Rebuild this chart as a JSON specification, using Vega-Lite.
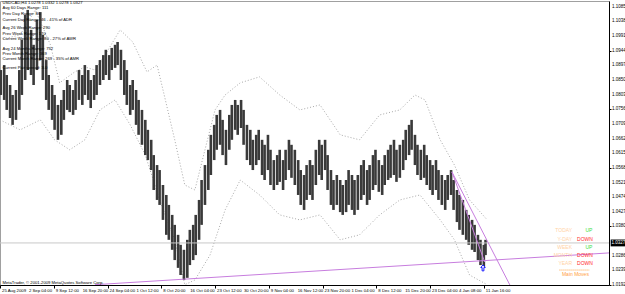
{
"$schema":"https://vega.github.io/schema/vega-lite/v6.json",
"width":609,"height":284,"autosize":"none",
"padding":{"left":0,"top":1,"right":16,"bottom":9},
"background":"#ffffff",
"config":{"view":{"stroke":"#a0a0a0","strokeWidth":1},"font":"Liberation Sans","axis":{"grid":false}},
"datasets":{
"bars":[
{"i":1,"hi":1.0882,"lo":1.0802},{"i":5,"hi":1.0898,"lo":1.0786},{"i":8,"hi":1.0866,"lo":1.0754},{"i":12,"hi":1.0834,"lo":1.0728},{"i":15,"hi":1.0802,"lo":1.0706},{"i":19,"hi":1.0818,"lo":1.0722},{"i":23,"hi":1.0882,"lo":1.0754},{"i":26,"hi":1.0979,"lo":1.0802},{"i":30,"hi":1.1059,"lo":1.0850},{"i":33,"hi":1.1075,"lo":1.0882},{"i":37,"hi":1.1011,"lo":1.0866},{"i":40,"hi":1.0963,"lo":1.0834},{"i":44,"hi":1.1043,"lo":1.0882},{"i":48,"hi":1.1068,"lo":1.0914},{"i":51,"hi":1.0995,"lo":1.0850},{"i":55,"hi":1.0914,"lo":1.0786},{"i":58,"hi":1.0866,"lo":1.0754},{"i":62,"hi":1.0834,"lo":1.0722},{"i":65,"hi":1.0802,"lo":1.0690},{"i":69,"hi":1.0770,"lo":1.0658},{"i":73,"hi":1.0786,"lo":1.0674},{"i":76,"hi":1.0818,"lo":1.0722},{"i":80,"hi":1.0850,"lo":1.0754},{"i":83,"hi":1.0834,"lo":1.0747},{"i":87,"hi":1.0818,"lo":1.0738},{"i":90,"hi":1.0850,"lo":1.0754},{"i":94,"hi":1.0882,"lo":1.0786},{"i":98,"hi":1.0866,"lo":1.0770},{"i":101,"hi":1.0898,"lo":1.0802},{"i":105,"hi":1.0882,"lo":1.0786},{"i":108,"hi":1.0850,"lo":1.0760},{"i":112,"hi":1.0866,"lo":1.0786},{"i":115,"hi":1.0898,"lo":1.0802},{"i":119,"hi":1.0914,"lo":1.0834},{"i":123,"hi":1.0930,"lo":1.0850},{"i":126,"hi":1.0947,"lo":1.0866},{"i":130,"hi":1.0930,"lo":1.0850},{"i":133,"hi":1.0953,"lo":1.0882},{"i":137,"hi":1.0963,"lo":1.0889},{"i":140,"hi":1.0972,"lo":1.0898},{"i":144,"hi":1.0947,"lo":1.0850},{"i":148,"hi":1.0914,"lo":1.0802},{"i":151,"hi":1.0882,"lo":1.0770},{"i":155,"hi":1.0834,"lo":1.0738},{"i":158,"hi":1.0850,"lo":1.0754},{"i":162,"hi":1.0818,"lo":1.0706},{"i":165,"hi":1.0786,"lo":1.0674},{"i":169,"hi":1.0754,"lo":1.0642},{"i":173,"hi":1.0722,"lo":1.0609},{"i":176,"hi":1.0690,"lo":1.0593},{"i":180,"hi":1.0658,"lo":1.0561},{"i":183,"hi":1.0609,"lo":1.0497},{"i":187,"hi":1.0577,"lo":1.0465},{"i":190,"hi":1.0561,"lo":1.0449},{"i":194,"hi":1.0513,"lo":1.0401},{"i":198,"hi":1.0481,"lo":1.0353},{"i":201,"hi":1.0449,"lo":1.0337},{"i":205,"hi":1.0417,"lo":1.0305},{"i":208,"hi":1.0385,"lo":1.0272},{"i":212,"hi":1.0353,"lo":1.0247},{"i":215,"hi":1.0321,"lo":1.0224},{"i":219,"hi":1.0305,"lo":1.0208},{"i":223,"hi":1.0337,"lo":1.0215},{"i":226,"hi":1.0369,"lo":1.0256},{"i":230,"hi":1.0385,"lo":1.0272},{"i":233,"hi":1.0417,"lo":1.0288},{"i":237,"hi":1.0465,"lo":1.0337},{"i":240,"hi":1.0529,"lo":1.0385},{"i":244,"hi":1.0577,"lo":1.0449},{"i":248,"hi":1.0626,"lo":1.0497},{"i":251,"hi":1.0674,"lo":1.0545},{"i":255,"hi":1.0706,"lo":1.0593},{"i":258,"hi":1.0738,"lo":1.0626},{"i":262,"hi":1.0754,"lo":1.0642},{"i":265,"hi":1.0722,"lo":1.0609},{"i":269,"hi":1.0690,"lo":1.0577},{"i":273,"hi":1.0738,"lo":1.0626},{"i":276,"hi":1.0770,"lo":1.0658},{"i":280,"hi":1.0786,"lo":1.0690},{"i":283,"hi":1.0770,"lo":1.0674},{"i":287,"hi":1.0786,"lo":1.0696},{"i":290,"hi":1.0754,"lo":1.0642},{"i":294,"hi":1.0706,"lo":1.0593},{"i":298,"hi":1.0690,"lo":1.0577},{"i":301,"hi":1.0658,"lo":1.0561},{"i":305,"hi":1.0674,"lo":1.0577},{"i":308,"hi":1.0690,"lo":1.0593},{"i":312,"hi":1.0658,"lo":1.0545},{"i":315,"hi":1.0642,"lo":1.0529},{"i":319,"hi":1.0674,"lo":1.0561},{"i":322,"hi":1.0626,"lo":1.0513},{"i":326,"hi":1.0593,"lo":1.0497},{"i":330,"hi":1.0609,"lo":1.0513},{"i":333,"hi":1.0626,"lo":1.0523},{"i":337,"hi":1.0593,"lo":1.0497},{"i":340,"hi":1.0626,"lo":1.0529},{"i":344,"hi":1.0658,"lo":1.0561},{"i":347,"hi":1.0642,"lo":1.0536},{"i":351,"hi":1.0626,"lo":1.0513},{"i":355,"hi":1.0593,"lo":1.0481},{"i":358,"hi":1.0561,"lo":1.0449},{"i":362,"hi":1.0545,"lo":1.0433},{"i":365,"hi":1.0577,"lo":1.0465},{"i":369,"hi":1.0593,"lo":1.0481},{"i":372,"hi":1.0577,"lo":1.0465},{"i":376,"hi":1.0626,"lo":1.0513},{"i":380,"hi":1.0658,"lo":1.0545},{"i":383,"hi":1.0642,"lo":1.0529},{"i":387,"hi":1.0658,"lo":1.0561},{"i":390,"hi":1.0609,"lo":1.0497},{"i":394,"hi":1.0561,"lo":1.0449},{"i":397,"hi":1.0529,"lo":1.0433},{"i":401,"hi":1.0545,"lo":1.0449},{"i":405,"hi":1.0529,"lo":1.0426},{"i":408,"hi":1.0513,"lo":1.0417},{"i":412,"hi":1.0529,"lo":1.0426},{"i":415,"hi":1.0561,"lo":1.0449},{"i":419,"hi":1.0545,"lo":1.0433},{"i":422,"hi":1.0529,"lo":1.0417},{"i":426,"hi":1.0545,"lo":1.0433},{"i":430,"hi":1.0577,"lo":1.0465},{"i":433,"hi":1.0593,"lo":1.0481},{"i":437,"hi":1.0561,"lo":1.0449},{"i":440,"hi":1.0577,"lo":1.0465},{"i":444,"hi":1.0609,"lo":1.0497},{"i":447,"hi":1.0626,"lo":1.0513},{"i":451,"hi":1.0593,"lo":1.0491},{"i":455,"hi":1.0577,"lo":1.0481},{"i":458,"hi":1.0609,"lo":1.0513},{"i":462,"hi":1.0626,"lo":1.0529},{"i":465,"hi":1.0642,"lo":1.0536},{"i":469,"hi":1.0658,"lo":1.0545},{"i":472,"hi":1.0626,"lo":1.0523},{"i":476,"hi":1.0642,"lo":1.0536},{"i":480,"hi":1.0658,"lo":1.0561},{"i":483,"hi":1.0690,"lo":1.0593},{"i":487,"hi":1.0706,"lo":1.0609},{"i":490,"hi":1.0722,"lo":1.0626},{"i":494,"hi":1.0674,"lo":1.0577},{"i":497,"hi":1.0642,"lo":1.0545},{"i":501,"hi":1.0626,"lo":1.0529},{"i":505,"hi":1.0642,"lo":1.0536},{"i":508,"hi":1.0609,"lo":1.0513},{"i":512,"hi":1.0593,"lo":1.0497},{"i":515,"hi":1.0577,"lo":1.0481},{"i":519,"hi":1.0593,"lo":1.0497},{"i":522,"hi":1.0561,"lo":1.0465},{"i":526,"hi":1.0545,"lo":1.0449},{"i":530,"hi":1.0529,"lo":1.0433},{"i":533,"hi":1.0545,"lo":1.0465},{"i":537,"hi":1.0561,"lo":1.0481},{"i":540,"hi":1.0529,"lo":1.0433},{"i":544,"hi":1.0497,"lo":1.0394},{"i":547,"hi":1.0481,"lo":1.0369},{"i":551,"hi":1.0465,"lo":1.0353},{"i":555,"hi":1.0433,"lo":1.0337},{"i":558,"hi":1.0417,"lo":1.0321},{"i":562,"hi":1.0401,"lo":1.0305},{"i":565,"hi":1.0385,"lo":1.0298},{"i":569,"hi":1.0353,"lo":1.0272},{"i":572,"hi":1.0337,"lo":1.0256},{"i":576,"hi":1.0321,"lo":1.0250},{"i":578,"hi":1.0337,"lo":1.0288}
],
"env":[
{"band":"up","i":0,"p":1.0979},{"band":"up","i":24,"p":1.0995},{"band":"up","i":42,"p":1.1075},{"band":"up","i":60,"p":1.0963},{"band":"up","i":71,"p":1.0841},{"band":"up","i":89,"p":1.0876},{"band":"up","i":101,"p":1.0892},{"band":"up","i":113,"p":1.0882},{"band":"up","i":125,"p":1.0930},{"band":"up","i":143,"p":1.1011},{"band":"up","i":158,"p":1.0972},{"band":"up","i":175,"p":1.0876},{"band":"up","i":187,"p":1.0898},{"band":"up","i":196,"p":1.0796},{"band":"up","i":208,"p":1.0658},{"band":"up","i":220,"p":1.0513},{"band":"up","i":232,"p":1.0497},{"band":"up","i":244,"p":1.0626},{"band":"up","i":256,"p":1.0754},{"band":"up","i":268,"p":1.0802},{"band":"up","i":286,"p":1.0841},{"band":"up","i":309,"p":1.0860},{"band":"up","i":333,"p":1.0802},{"band":"up","i":357,"p":1.0754},{"band":"up","i":381,"p":1.0770},{"band":"up","i":405,"p":1.0674},{"band":"up","i":428,"p":1.0658},{"band":"up","i":452,"p":1.0738},{"band":"up","i":476,"p":1.0754},{"band":"up","i":494,"p":1.0802},{"band":"up","i":506,"p":1.0786},{"band":"up","i":524,"p":1.0658},{"band":"up","i":541,"p":1.0577},{"band":"up","i":559,"p":1.0465},{"band":"up","i":580,"p":1.0401},
{"band":"dn","i":0,"p":1.0722},{"band":"dn","i":24,"p":1.0690},{"band":"dn","i":48,"p":1.0722},{"band":"dn","i":65,"p":1.0658},{"band":"dn","i":83,"p":1.0626},{"band":"dn","i":101,"p":1.0658},{"band":"dn","i":119,"p":1.0754},{"band":"dn","i":137,"p":1.0786},{"band":"dn","i":155,"p":1.0706},{"band":"dn","i":173,"p":1.0609},{"band":"dn","i":190,"p":1.0465},{"band":"dn","i":208,"p":1.0337},{"band":"dn","i":220,"p":1.0193},{"band":"dn","i":232,"p":1.0208},{"band":"dn","i":250,"p":1.0288},{"band":"dn","i":268,"p":1.0433},{"band":"dn","i":286,"p":1.0529},{"band":"dn","i":309,"p":1.0481},{"band":"dn","i":333,"p":1.0417},{"band":"dn","i":357,"p":1.0401},{"band":"dn","i":381,"p":1.0417},{"band":"dn","i":405,"p":1.0337},{"band":"dn","i":428,"p":1.0353},{"band":"dn","i":452,"p":1.0417},{"band":"dn","i":476,"p":1.0465},{"band":"dn","i":500,"p":1.0481},{"band":"dn","i":524,"p":1.0401},{"band":"dn","i":541,"p":1.0337},{"band":"dn","i":559,"p":1.0224},{"band":"dn","i":580,"p":1.0193}
],
"trend":[
{"line":"a","i":113,"p":1.0193},{"line":"a","i":725,"p":1.0295},
{"line":"b","i":538,"p":1.0555},{"line":"b","i":607,"p":1.0192},
{"line":"c","i":538,"p":1.0555},{"line":"c","i":577,"p":1.0266}
],
"info":[
{"i":3,"p":1.1097,"t":"USDCAD,H4  1.0278 1.0332 1.0278 1.0327"},
{"i":3,"p":1.1080,"t":"Avg 60 Days Range: 111"},
{"i":3,"p":1.1062,"t":"Prev Day Range: 86"},
{"i":3,"p":1.1044,"t":"Current Day Range: 46 - 41% of ADR"},
{"i":3,"p":1.1016,"t":"Avg 26 Week Range: 290"},
{"i":3,"p":1.0999,"t":"Prev Week Range: 170"},
{"i":3,"p":1.0982,"t":"Current Week Range: 80 - 27% of AWR"},
{"i":3,"p":1.0951,"t":"Avg 24 Months Range: 752"},
{"i":3,"p":1.0934,"t":"Prev Month Range: 369"},
{"i":3,"p":1.0916,"t":"Current Month Range: 269 - 35% of AMR"},
{"i":3,"p":1.0887,"t":"Current Pair spread: 3.0"},
{"i":3,"p":1.0200,"t":"MetaTrader, © 2001-2009 MetaQuotes Software Corp."}
],
"ylab":[
{"p":1.0192,"t":"1.0192"},{"p":1.0239,"t":"1.0239"},{"p":1.0286,"t":"1.0286"},{"p":1.0380,"t":"1.0380"},{"p":1.0427,"t":"1.0427"},{"p":1.0474,"t":"1.0474"},{"p":1.0521,"t":"1.0521"},{"p":1.0568,"t":"1.0568"},{"p":1.0615,"t":"1.0615"},{"p":1.0662,"t":"1.0662"},{"p":1.0709,"t":"1.0709"},{"p":1.0756,"t":"1.0756"},{"p":1.0803,"t":"1.0803"},{"p":1.0850,"t":"1.0850"},{"p":1.0897,"t":"1.0897"},{"p":1.0944,"t":"1.0944"},{"p":1.0991,"t":"1.0991"},{"p":1.1038,"t":"1.1038"},{"p":1.1085,"t":"1.1085"}
],
"xlab":[
{"i":0,"t":"25 Aug 2009"},{"i":32,"t":"2 Sep 04:00"},{"i":64,"t":"9 Sep 12:00"},{"i":96,"t":"16 Sep 20:00"},{"i":128,"t":"24 Sep 04:00"},{"i":160,"t":"1 Oct 12:00"},{"i":192,"t":"8 Oct 20:00"},{"i":224,"t":"16 Oct 04:00"},{"i":256,"t":"23 Oct 12:00"},{"i":288,"t":"30 Oct 20:00"},{"i":320,"t":"9 Nov 04:00"},{"i":352,"t":"16 Nov 12:00"},{"i":384,"t":"23 Nov 20:00"},{"i":416,"t":"1 Dec 04:00"},{"i":448,"t":"8 Dec 12:00"},{"i":480,"t":"15 Dec 20:00"},{"i":512,"t":"23 Dec 04:00"},{"i":544,"t":"4 Jan 08:00"},{"i":576,"t":"11 Jan 16:00"}
],
"plabels":[
{"i":681,"p":1.0369,"t":"TODAY"},{"i":681,"p":1.0340,"t":"Y-DAY"},{"i":681,"p":1.0314,"t":"WEEK"},{"i":681,"p":1.0288,"t":"MONTH"},{"i":681,"p":1.0263,"t":"YEAR"}
],
"pvalues":[
{"i":697,"p":1.0369,"t":"UP","c":"#3ee03e"},{"i":687,"p":1.0340,"t":"DOWN","c":"#ff2a2a"},{"i":697,"p":1.0314,"t":"UP","c":"#3ee03e"},{"i":687,"p":1.0288,"t":"DOWN","c":"#ff2a2a"},{"i":687,"p":1.0263,"t":"DOWN","c":"#ff2a2a"}
]
},
"layer":[
{"data":{"name":"env"},
 "mark":{"type":"line","strokeDash":[1,2],"color":"#a8a8a8","strokeWidth":1,"clip":true},
 "encoding":{
  "x":{"field":"i","type":"quantitative","scale":{"domain":[0,725],"nice":false,"zero":false},
   "axis":{"orient":"bottom","title":null,"values":[0,32,64,96,128,160,192,224,256,288,320,352,384,416,448,480,512,544,576],"labels":false,"tickSize":3,"tickColor":"#000000","domainColor":"#000000"}},
  "y":{"field":"p","type":"quantitative","scale":{"domain":[1.0192,1.11036],"nice":false,"zero":false},
   "axis":{"orient":"right","title":null,"values":[1.0192,1.0239,1.0286,1.0333,1.038,1.0427,1.0474,1.0521,1.0568,1.0615,1.0662,1.0709,1.0756,1.0803,1.085,1.0897,1.0944,1.0991,1.1038,1.1085],"labels":false,"tickSize":2,"tickColor":"#000000","domainColor":"#000000"}},
  "detail":{"field":"band","type":"nominal"}}},
{"data":{"name":"bars"},
 "mark":{"type":"rule","color":"#3a3a3a","strokeWidth":2.6,"clip":true},
 "encoding":{"x":{"field":"i","type":"quantitative"},"y":{"field":"lo","type":"quantitative"},"y2":{"field":"hi"}}},
{"data":{"values":[{"p":1.0327}]},
 "mark":{"type":"rule","color":"#c8c8c8","strokeWidth":1},
 "encoding":{"y":{"field":"p","type":"quantitative"}}},
{"data":{"name":"trend"},
 "mark":{"type":"line","color":"#c77dde","strokeWidth":1,"clip":true},
 "encoding":{"x":{"field":"i","type":"quantitative"},"y":{"field":"p","type":"quantitative"},"detail":{"field":"line","type":"nominal"}}},
{"data":{"name":"info"},
 "mark":{"type":"text","align":"left","baseline":"middle","fontSize":4.2,"color":"#000000"},
 "encoding":{"x":{"field":"i","type":"quantitative"},"y":{"field":"p","type":"quantitative"},"text":{"field":"t"}}},
{"data":{"name":"ylab"},
 "mark":{"type":"text","align":"left","baseline":"middle","fontSize":4.5,"color":"#000000","dx":3},
 "encoding":{"x":{"datum":725,"type":"quantitative"},"y":{"field":"p","type":"quantitative"},"text":{"field":"t"}}},
{"data":{"name":"xlab"},
 "mark":{"type":"text","align":"left","baseline":"top","fontSize":4.3,"color":"#000000","dx":2,"dy":4},
 "encoding":{"x":{"field":"i","type":"quantitative"},"y":{"datum":1.0192,"type":"quantitative"},"text":{"field":"t"}}},
{"data":{"name":"plabels"},
 "mark":{"type":"text","align":"right","baseline":"middle","fontSize":5,"color":"#ffd2a6"},
 "encoding":{"x":{"field":"i","type":"quantitative"},"y":{"field":"p","type":"quantitative"},"text":{"field":"t"}}},
{"data":{"name":"pvalues"},
 "mark":{"type":"text","align":"left","baseline":"middle","fontSize":5},
 "encoding":{"x":{"field":"i","type":"quantitative"},"y":{"field":"p","type":"quantitative"},"text":{"field":"t"},"color":{"field":"c","type":"nominal","scale":null}}},
{"data":{"values":[{"i0":666,"i1":702,"p":1.0240}]},
 "mark":{"type":"rule","color":"#ffa040","strokeWidth":1,"strokeDash":[1,1]},
 "encoding":{"x":{"field":"i0","type":"quantitative"},"x2":{"field":"i1"},"y":{"field":"p","type":"quantitative"}}},
{"data":{"values":[{"i":685,"p":1.0227,"t":"Main Moves"}]},
 "mark":{"type":"text","align":"center","baseline":"middle","fontSize":5,"color":"#ffa040"},
 "encoding":{"x":{"field":"i","type":"quantitative"},"y":{"field":"p","type":"quantitative"},"text":{"field":"t"}}},
{"data":{"values":[{"i":575,"p":1.0247}]},
 "mark":{"type":"point","shape":"M0,-1L0.75,-0.1L0.3,-0.1L0.3,1L-0.3,1L-0.3,-0.1L-0.75,-0.1Z","size":36,"filled":true,"color":"#1a1aff","fill":"#ffffff","stroke":"#1a1aff","strokeWidth":1,"opacity":1,"fillOpacity":1},
 "encoding":{"x":{"field":"i","type":"quantitative"},"y":{"field":"p","type":"quantitative"}}},
{"data":{"values":[{"i0":727,"i1":746,"p0":1.0316,"p1":1.0338}]},
 "mark":{"type":"rect","color":"#000000"},
 "encoding":{"x":{"field":"i0","type":"quantitative"},"x2":{"field":"i1"},"y":{"field":"p0","type":"quantitative"},"y2":{"field":"p1"}}},
{"data":{"values":[{"i":728,"p":1.0327,"t":"1.0327"}]},
 "mark":{"type":"text","align":"left","baseline":"middle","fontSize":4.5,"color":"#ffffff"},
 "encoding":{"x":{"field":"i","type":"quantitative"},"y":{"field":"p","type":"quantitative"},"text":{"field":"t"}}}
]
}
